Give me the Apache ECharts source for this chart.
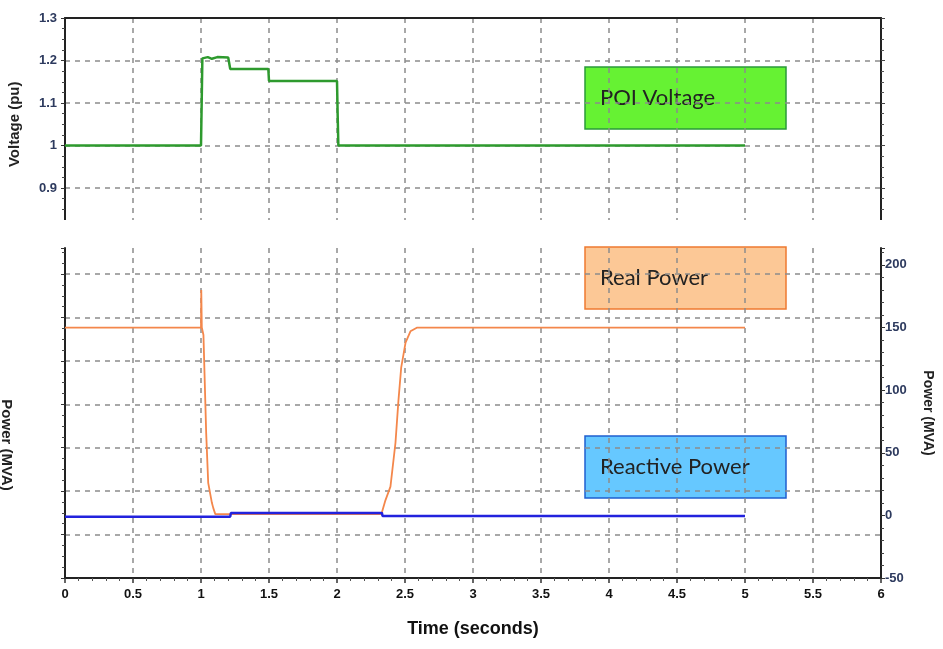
<!DOCTYPE html>
<html>
<head>
<meta charset="utf-8">
<script src="https://cdn.jsdelivr.net/npm/echarts@6/dist/echarts.min.js"></script>
<style>html,body{margin:0;padding:0;background:#fff}#c{width:943px;height:649px}</style>
</head>
<body>
<div id="c"></div>
<script>
// ---- data ----
const voltageTime = [0, 1.0, 1.005, 1.01, 1.05, 1.08, 1.12, 1.2, 1.215, 1.495, 1.5, 2.0, 2.005, 2.01, 5.0];
const voltageValues = [1.0, 1.0, 1.1, 1.205, 1.208, 1.204, 1.208, 1.207, 1.18, 1.18, 1.152, 1.152, 1.07, 1.0, 1.0];

const realTime = [0, 1.0, 1.002, 1.006, 1.018, 1.038, 1.053, 1.08, 1.09, 1.105, 2.33, 2.332, 2.356, 2.393, 2.43, 2.452, 2.472, 2.504, 2.54, 2.59, 5.0];
const realValues = [150, 150, 180, 150, 144, 66, 26, 10, 6, 1, 1, 3, 12, 23, 58, 92, 118, 138, 147, 150, 150];

const reactiveTime = [0, 1.215, 1.22, 2.33, 2.335, 5.0];
const reactiveValues = [-1, -1, 2, 2, -0.5, -0.5];

const timeTicks = [0, 0.5, 1, 1.5, 2, 2.5, 3, 3.5, 4, 4.5, 5, 5.5, 6];
const voltageTicks = [0.9, 1, 1.1, 1.2, 1.3];
const powerTicks = [-50, 0, 50, 100, 150, 200];

const toPairs = (xs, ys) => xs.map((x, i) => [x, ys[i]]);

const gridDash = { type: [5, 5], color: '#8c8c8c', width: 1.5 };
const labelColor = '#2d3a5e';
const narrow = '"Liberation Sans Narrow", "Arial Narrow", "Liberation Sans", sans-serif';

const chart = echarts.init(document.getElementById('c'), null, { renderer: 'canvas' });

function box(x, y, w, h, fill, stroke, text) {
  return {
    type: 'group', x: x, y: y, z: 100,
    children: [
      { type: 'rect', shape: { x: 0, y: 0, width: w, height: h }, style: { fill: fill, stroke: stroke, lineWidth: 1.5 } },
      { type: 'text', x: 15, y: h / 2, style: { text: text, font: '22px Lato, "Open Sans", sans-serif', fill: '#222', verticalAlign: 'middle', align: 'left' } }
    ]
  };
}

chart.setOption({
  animation: false,
  backgroundColor: '#fff',
  grid: [
    { left: 65, right: 62, top: 18, height: 212.5, containLabel: false, outerBoundsMode: 'none' },
    { left: 65, right: 62, top: 248, bottom: 71, containLabel: false, outerBoundsMode: 'none' }
  ],
  xAxis: [
    {
      gridIndex: 0, type: 'value', min: 0, max: 6, interval: 0.5, position: 'top',
      axisLine: { show: true, onZero: false, lineStyle: { color: '#222', width: 2 } },
      axisTick: { show: false }, axisLabel: { show: false },
      splitLine: { show: true, lineStyle: gridDash }
    },
    {
      gridIndex: 1, type: 'value', min: 0, max: 6, interval: 0.5, position: 'bottom',
      axisLine: { show: true, onZero: false, lineStyle: { color: '#222', width: 2 } },
      axisTick: { show: true, length: 5, lineStyle: { color: '#333', width: 1.5 } },
      minorTick: { show: true, splitNumber: 5, length: 3, lineStyle: { color: '#555' } },
      axisLabel: {
        show: true, color: '#111', fontSize: 13, fontWeight: 'bold', fontFamily: narrow, margin: 10,
        customValues: timeTicks, formatter: v => String(v)
      },
      splitLine: { show: true, lineStyle: gridDash },
      name: 'Time (seconds)', nameLocation: 'middle', nameGap: 42,
      nameTextStyle: { color: '#111', fontSize: 18, fontWeight: 'bold', fontFamily: narrow }
    }
  ],
  yAxis: [
    {
      gridIndex: 0, type: 'value', min: 0.8, max: 1.3, interval: 0.1, position: 'left',
      axisLine: { show: true, onZero: false, lineStyle: { color: '#222', width: 2 } },
      axisTick: { show: true, length: 4, lineStyle: { color: '#333' } },
      minorTick: { show: true, splitNumber: 4, length: 3, lineStyle: { color: '#444' } },
      axisLabel: {
        color: labelColor, fontSize: 13, fontWeight: 'bold', fontFamily: narrow, margin: 8,
        customValues: voltageTicks, formatter: v => String(Math.round(v * 10) / 10)
      },
      splitLine: { show: true, showMaxLine: false, lineStyle: gridDash },
      name: 'Voltage (pu)', nameLocation: 'middle', nameGap: 43, nameRotate: 90,
      nameTextStyle: { color: '#222', fontSize: 15, fontWeight: 'bold', fontFamily: narrow }
    },
    {
      gridIndex: 0, type: 'value', min: 0.8, max: 1.3, interval: 0.1, position: 'right',
      axisLine: { show: true, onZero: false, lineStyle: { color: '#222', width: 2 } },
      axisTick: { show: true, length: 4, lineStyle: { color: '#444' } },
      minorTick: { show: true, splitNumber: 4, length: 3, lineStyle: { color: '#555' } },
      axisLabel: { show: false }, splitLine: { show: false }
    },
    {
      gridIndex: 1, type: 'value', min: 0, max: 7.6, interval: 1, position: 'left',
      axisLine: { show: true, onZero: false, lineStyle: { color: '#222', width: 2 } },
      axisTick: { show: true, length: 4, lineStyle: { color: '#333' } },
      minorTick: { show: true, splitNumber: 4, length: 3, lineStyle: { color: '#444' } },
      axisLabel: { show: false },
      splitLine: { show: true, showMaxLine: false, showMinLine: false, lineStyle: gridDash }
    },
    {
      gridIndex: 1, type: 'value', min: -50, max: 213.5, interval: 50, position: 'right',
      axisLine: { show: true, onZero: false, lineStyle: { color: '#222', width: 2 } },
      axisTick: { show: true, length: 4, lineStyle: { color: '#333' } },
      minorTick: { show: true, splitNumber: 5, length: 3, lineStyle: { color: '#444' } },
      axisLabel: {
        color: labelColor, fontSize: 13, fontWeight: 'bold', fontFamily: narrow, margin: 4,
        customValues: powerTicks, formatter: v => String(v)
      },
      splitLine: { show: false },
      name: 'Power (MVA)', nameLocation: 'middle', nameGap: 40, nameRotate: -90,
      nameTextStyle: { color: '#222', fontSize: 14, fontWeight: 'bold', fontFamily: narrow }
    }
  ],
  series: [
    {
      type: 'line', xAxisIndex: 0, yAxisIndex: 0, showSymbol: false, symbol: 'none',
      data: toPairs(voltageTime, voltageValues),
      lineStyle: { color: '#2e9a2e', width: 2.5 }, z: 5
    },
    {
      type: 'line', xAxisIndex: 1, yAxisIndex: 3, showSymbol: false, symbol: 'none',
      data: toPairs(realTime, realValues),
      lineStyle: { color: '#f4874b', width: 1.8 }, z: 5
    },
    {
      type: 'line', xAxisIndex: 1, yAxisIndex: 3, showSymbol: false, symbol: 'none',
      data: toPairs(reactiveTime, reactiveValues),
      lineStyle: { color: '#2222dd', width: 2.5 }, z: 6
    }
  ],
  graphic: [
    { type: 'rect', z: 50, shape: { x: 20, y: 220, width: 900, height: 26 }, style: { fill: '#fff' } },
    {
      type: 'text', z: 60, x: 6, y: 445, rotation: -Math.PI / 2,
      style: { text: 'Power (MVA)', font: 'bold 15px ' + narrow, fill: '#222', align: 'center', verticalAlign: 'middle' }
    },
    box(585, 67, 201, 62, '#66f233', '#2a9a3a', 'POI Voltage'),
    box(585, 247, 201, 62, '#fcc896', '#ee7a30', 'Real Power'),
    box(585, 436, 201, 62, '#66c8ff', '#1f5fd0', 'Reactive Power')
  ]
});
</script>
</body>
</html>
